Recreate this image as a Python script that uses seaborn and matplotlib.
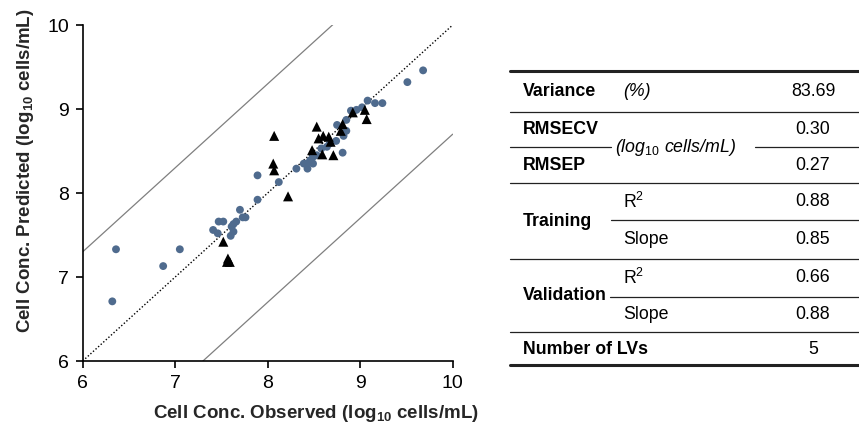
import matplotlib
matplotlib.use("Agg")
import matplotlib.pyplot as plt
import seaborn as sns
import pandas as pd
import numpy as np
from matplotlib.lines import Line2D

# ---------------- data ----------------
train_obs = [6.32, 6.36, 6.87, 7.05, 7.41, 7.46, 7.47, 7.52, 7.60, 7.61, 7.63, 7.63, 7.66,
             7.70, 7.73, 7.76, 7.89, 7.89, 8.12, 8.31, 8.39, 8.42, 8.43, 8.46, 8.49, 8.49,
             8.53, 8.58, 8.64, 8.67, 8.74, 8.75, 8.81, 8.82, 8.85, 8.85, 8.90, 8.96, 9.02,
             9.08, 9.16, 9.24, 9.51, 9.68]
train_pred = [6.71, 7.33, 7.13, 7.33, 7.56, 7.52, 7.66, 7.66, 7.49, 7.60, 7.54, 7.63, 7.66,
              7.80, 7.71, 7.71, 8.21, 7.92, 8.13, 8.29, 8.35, 8.35, 8.29, 8.39, 8.43, 8.35,
              8.45, 8.53, 8.55, 8.59, 8.62, 8.81, 8.48, 8.68, 8.74, 8.87, 8.98, 8.99, 9.02,
              9.10, 9.07, 9.07, 9.32, 9.46]
valid_obs = [7.52, 7.56, 7.57, 7.59, 8.06, 8.07, 8.07, 8.22, 8.48, 8.53, 8.55, 8.59, 8.60,
             8.66, 8.68, 8.71, 8.79, 8.81, 8.92, 9.05, 9.07]
valid_pred = [7.42, 7.18, 7.22, 7.18, 8.35, 8.27, 8.68, 7.96, 8.51, 8.79, 8.65, 8.46, 8.68,
              8.67, 8.61, 8.45, 8.74, 8.82, 8.96, 8.99, 8.88]
band_offset = 1.3
axis_range = [6, 10]
axis_ticks = [6, 7, 8, 9, 10]

# table content
row_labels = ["Variance", "RMSECV", "RMSEP", "Training", "Validation", "Number of LVs"]
unit_labels = ["(%)", "(log$_{\\mathit{10}}$ cells/mL)"]
sub_labels = ["R$^2$", "Slope", "R$^2$", "Slope"]
table_values = ["83.69", "0.30", "0.27", "0.88", "0.85", "0.66", "0.88", "5"]

# ---------------- style ----------------
sns.set_style("white")
plt.rcParams["font.family"] = ["Liberation Sans", "DejaVu Sans"]
plt.rcParams["mathtext.fontset"] = "custom"
plt.rcParams["mathtext.rm"] = "Liberation Sans"
plt.rcParams["mathtext.it"] = "Liberation Sans:italic"
plt.rcParams["mathtext.bf"] = "Liberation Sans:bold"

W, H = 859, 429
fig = plt.figure(figsize=(W / 100, H / 100), dpi=100)
ax = fig.add_axes([82.7 / W, 1 - 361 / H, 370 / W, 336 / H])

df = pd.DataFrame({
    "obs": train_obs + valid_obs,
    "pred": train_pred + valid_pred,
    "set": ["Training"] * len(train_obs) + ["Validation"] * len(valid_obs),
})

blue = "#4f6b8e"
# reference lines
xs = np.array(axis_range, dtype=float)
ax.plot(xs, xs, ls=(0, (1, 1.5)), color="black", lw=1.0, zorder=1)
ax.plot(xs, xs + band_offset, color="#7f7f7f", lw=0.9, zorder=1)
ax.plot(xs, xs - band_offset, color="#7f7f7f", lw=0.9, zorder=1)

sns.scatterplot(data=df[df["set"] == "Training"], x="obs", y="pred", color=blue,
                marker="o", s=32, edgecolor="none", ax=ax, zorder=3, legend=False)
sns.scatterplot(data=df[df["set"] == "Validation"], x="obs", y="pred", color="black",
                marker="^", s=52, edgecolor="none", ax=ax, zorder=4, legend=False)

ax.set_xlim(axis_range)
ax.set_ylim(axis_range)
ax.set_xticks(axis_ticks)
ax.set_yticks(axis_ticks)
for side in ["top", "right"]:
    ax.spines[side].set_visible(False)
for side in ["left", "bottom"]:
    ax.spines[side].set_linewidth(1.2)
    ax.spines[side].set_color("black")
ax.tick_params(axis="both", direction="out", length=5, width=1.2, labelsize=14,
               colors="black", pad=5, bottom=True, left=True)

ax.set_xlabel("Cell Conc. Observed (log$_{\\mathbf{10}}$ cells/mL)", fontsize=13.5,
              fontweight="bold")
ax.set_ylabel("Cell Conc. Predicted (log$_{\\mathbf{10}}$ cells/mL)", fontsize=13.5,
              fontweight="bold")
ax.xaxis.set_label_coords(0.63, -0.125)
ax.yaxis.set_label_coords(-0.125, 0.565)

# ---------------- table ----------------
tab = fig.add_axes([0, 0, 1, 1], zorder=-1)
tab.set_xlim(0, W)
tab.set_ylim(H, 0)
tab.axis("off")

xL, xR = 510, 859
c1, c2, cv = 523, 623, 813
fs = 12.8
lc = "#222222"

def hline(y, x0=xL, x1=xR, lw=0.9):
    tab.add_line(Line2D([x0, x1], [y, y], color=lc, lw=lw))

hline(70.5, lw=2.2)
hline(365, lw=2.2)
hline(111.7)
hline(147.3, xL, 611)
hline(147.3, 755, xR)
hline(183.3)
hline(220, 611, xR)
hline(258.7)
hline(297.3, 610, xR)
hline(331.7)

def t(x, y, s, bold=False, italic=False, ha="left"):
    tab.text(x, y, s, fontsize=fs, fontweight="bold" if bold else "normal",
             fontstyle="italic" if italic else "normal", ha=ha, va="center", color="black")

t(c1, 92, row_labels[0], bold=True)
t(c1, 130, row_labels[1], bold=True)
t(c1, 166, row_labels[2], bold=True)
t(c1, 221, row_labels[3], bold=True)
t(c1, 296, row_labels[4], bold=True)
t(c1, 349.5, row_labels[5], bold=True)

t(c2, 92, unit_labels[0], italic=True)
t(615, 147.3, unit_labels[1], italic=True)
t(c2, 201.5, sub_labels[0])
t(c2, 240, sub_labels[1])
t(c2, 278, sub_labels[2])
t(c2, 314.5, sub_labels[3])

for y, v in zip([92, 130, 166, 201.5, 240, 278, 314.5, 349.5], table_values):
    t(cv, y, v, ha="center")

fig.savefig("out.png", dpi=100)
